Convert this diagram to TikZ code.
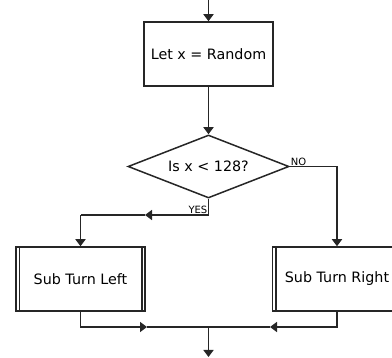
\documentclass[tikz,border=0pt]{standalone}
\usepackage{fontspec}
\setmainfont{DejaVu Sans}
\usetikzlibrary{shapes.geometric,arrows.meta}
\begin{document}
\begin{tikzpicture}[x=1pt,y=-1pt,
  every node/.style={font=\fontsize{14.3}{16}\selectfont},
  line/.style={draw=black!85,line width=1.5pt},
  arr/.style={line,-{Triangle[length=7pt,width=10pt]}},
  procbox/.style={line,rectangle,minimum width=129pt,minimum height=64pt,inner sep=0pt},
  decbox/.style={line,diamond,minimum width=161pt,minimum height=63pt,inner sep=0pt,aspect=2.5},
  lbl/.style={font=\fontsize{10}{11}\selectfont,inner sep=1pt}]
\useasboundingbox (0,0) rectangle (392,358);
\node[procbox] (let) at (208.5,54) {Let x = Random};
\node[decbox] (dec) at (208.5,166.5) {Is x < 128?};
\node[procbox] (left) at (80.5,279) {Sub Turn Left};
\node[procbox] (right) at (337,279) {Sub Turn Right};
\foreach \n in {left,right}{
  \draw[line] ([xshift=4pt]\n.north west) -- ([xshift=4pt]\n.south west);
  \draw[line] ([xshift=-4pt]\n.north east) -- ([xshift=-4pt]\n.south east);
}
\coordinate (top) at (208.5,0);
\coordinate (yesturn) at (208.5,215);
\coordinate (yesmid) at (145,215);
\coordinate (merge) at (208.5,327);
\coordinate (lmid) at (147,327);
\coordinate (rmid) at (270,327);
\coordinate (bot) at (208.5,357);
\draw[arr] (top) -- (let.north);
\draw[arr] (let.south) -- (dec.north);
\draw[arr] (dec.south) -- (yesturn) -- (yesmid);
\draw[line] (yesmid) -- (yesmid -| left.north);
\draw[arr] (yesmid -| left.north) -- (left.north);
\draw[arr] (dec.east) -| (right.north);
\draw[arr] (left.south) |- (lmid);
\draw[line] (lmid) -- (merge);
\draw[arr] (right.south) |- (rmid);
\draw[line] (rmid) -- (merge);
\draw[arr] (merge) -- (bot);
\node[lbl,anchor=south west] (no) at (dec.east) {NO};
\node[lbl,anchor=south east] (yes) at (yesturn) {YES};
\end{tikzpicture}
\end{document}
